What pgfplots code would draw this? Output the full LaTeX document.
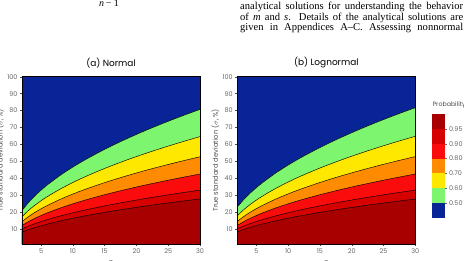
\documentclass[border=0pt]{standalone}
\usepackage{pgfplots}
\pgfplotsset{compat=1.18}
\usepackage{pgfplotstable}
\usepackage{fontspec}
\setmainfont{Poppins}
\newfontfamily\bodyserif{Liberation Serif}

% band colours, from high to low probability
\definecolor{pblue}{RGB}{8,36,150}
\definecolor{pgreen}{RGB}{125,245,110}
\definecolor{pyellow}{RGB}{255,232,0}
\definecolor{porange}{RGB}{255,140,0}
\definecolor{pred}{RGB}{250,12,12}
\definecolor{pmidred}{RGB}{215,0,0}
\definecolor{pdarkred}{RGB}{168,0,0}

% contour levels of the probability (sigma in %), normal parent
\pgfplotstableread{
n  p50   p60   p70   p80   p90   p95
2  20.90 17.30 14.40 12.10 10.10 8.20
3  25.57 20.92 17.30 14.34 11.72 9.61
4  29.51 24.00 19.77 16.28 13.13 10.84
5  32.98 26.73 21.97 18.01 14.41 11.95
6  36.12 29.21 23.97 19.59 15.59 12.96
8  41.70 33.61 27.54 22.41 17.71 14.78
10 46.61 37.50 30.69 24.92 19.60 16.40
12 51.06 41.03 33.55 27.19 21.32 17.87
15 57.08 45.81 37.43 30.29 23.67 19.87
18 62.52 50.14 40.94 33.09 25.81 21.69
21 67.53 54.12 44.18 35.68 27.78 23.37
24 72.19 57.83 47.19 38.09 29.62 24.93
27 76.56 61.31 50.02 40.36 31.36 26.40
30 80.70 64.61 52.70 42.51 33.00 27.80
}\normaltab

% contour levels of the probability (sigma in %), lognormal parent
\pgfplotstableread{
n  p50   p60   p70   p80   p90   p95
2  23.00 17.90 14.50 12.10 10.20 8.40
3  27.36 21.42 17.39 14.34 11.80 9.77
4  31.11 24.44 19.86 16.28 13.20 10.97
5  34.46 27.13 22.06 18.01 14.47 12.05
6  37.51 29.57 24.05 19.59 15.64 13.05
8  42.97 33.93 27.62 22.41 17.75 14.83
10 47.80 37.79 30.77 24.92 19.63 16.43
12 52.19 41.30 33.63 27.19 21.35 17.88
15 58.16 46.05 37.51 30.29 23.69 19.86
18 63.57 50.36 41.03 33.09 25.82 21.66
21 68.55 54.33 44.26 35.68 27.79 23.32
24 73.20 58.03 47.28 38.09 29.63 24.87
27 77.57 61.51 50.12 40.36 31.36 26.33
30 81.70 64.80 52.80 42.51 33.00 27.71
}\lognormaltab

\pgfplotsset{
  panel/.style={
    scale only axis, width=178bp, height=167.6bp,
    xmin=2, xmax=30, ymin=1, ymax=100,
    xtick={5,10,...,30}, ytick={10,20,...,100},
    tick align=outside, tick pos=left,
    major tick length=2bp,
    tick style={black!70, line width=0.4pt},
    /pgf/number format/assume math mode=true,
    tick label style={font=\fontsize{6.5}{7}\selectfont, text=black!60},
    xticklabel style={yshift=1bp},
    yticklabel style={xshift=1bp},
    axis background/.style={fill=pblue},
    axis line style={black, line width=0.6pt},
    axis on top,
    xlabel={\itshape n},
    ylabel={True standard deviation ($\sigma$, \%)},
    ylabel shift=-3.5bp,
    label style={font=\fontsize{6.8}{8}\selectfont, text=black!70},
    title style={font=\fontsize{9}{10}\selectfont, at={(0.5,1)}, anchor=south, yshift=-0.5bp},
  },
}

\newcommand\bands[1]{%
  \addplot[fill=pgreen, draw=none] table[x=n, y=p50]{#1} \closedcycle;
  \addplot[fill=pyellow, draw=none] table[x=n, y=p60]{#1} \closedcycle;
  \addplot[fill=porange, draw=none] table[x=n, y=p70]{#1} \closedcycle;
  \addplot[fill=pred, draw=none] table[x=n, y=p80]{#1} \closedcycle;
  \addplot[fill=pmidred, draw=none] table[x=n, y=p90]{#1} \closedcycle;
  \addplot[fill=pdarkred, draw=none] table[x=n, y=p95]{#1} \closedcycle;
  \addplot[black, line width=0.45pt, smooth] table[x=n, y=p50]{#1};
  \addplot[black, line width=0.45pt, smooth] table[x=n, y=p60]{#1};
  \addplot[black, line width=0.45pt, smooth] table[x=n, y=p70]{#1};
  \addplot[black, line width=0.45pt, smooth] table[x=n, y=p80]{#1};
  \addplot[black, line width=0.45pt, smooth] table[x=n, y=p90]{#1};
  \addplot[black, line width=0.45pt, smooth] table[x=n, y=p95]{#1};
}

\begin{document}
\begin{tikzpicture}
\useasboundingbox (0bp,0bp) rectangle (464bp,261bp);

% running text of the page above the figure
\node[anchor=base west, inner sep=0pt, font=\bodyserif\fontsize{10}{10}\selectfont\itshape] at (99bp,254bp) {n\,\upshape − 1};
\begin{scope}[every node/.style={anchor=base west, inner sep=0pt, font=\bodyserif\fontsize{10.6}{10.5}\selectfont}]
  \node at (240bp,251bp) {\makebox[223bp][s]{analytical solutions for understanding the behavior}};
  \node at (240bp,240.5bp) {\makebox[223bp][s]{of \textit{m} and \textit{s}. Details of the analytical solutions are}};
  \node at (240bp,230bp) {\makebox[223bp][s]{given in Appendices A–C. Assessing nonnormal}};
\end{scope}

% (a) normal parent distribution
\begin{axis}[panel, at={(22bp,16.7bp)}, anchor=south west, title={(a) Normal}]
  \bands{\normaltab}
\end{axis}

% (b) lognormal parent distribution
\begin{axis}[panel, at={(237.3bp,16.7bp)}, anchor=south west, title={(b) Lognormal}]
  \bands{\lognormaltab}
\end{axis}

% discrete colour key
\begin{axis}[scale only axis, width=13bp, height=104bp,
    at={(432bp,43bp)}, anchor=south west,
    xmin=0, xmax=1, ymin=0, ymax=7,
    hide x axis, axis y line*=right,
    y axis line style={draw=none},
    ytick={1,...,6}, yticklabels={0.50,0.60,0.70,0.80,0.90,0.95},
    tick align=outside, major tick length=1.5bp,
    tick style={black!60, line width=0.3pt},
    /pgf/number format/assume math mode=true,
    yticklabel style={font=\fontsize{6.5}{7}\selectfont, text=black!60, xshift=-1bp},
    title={Probability},
    title style={font=\fontsize{6.3}{7}\selectfont, text=black!70, at={(0,1)}, anchor=south west, xshift=-3bp, yshift=-4bp},
  ]
  \addplot[fill=pdarkred, draw=none] coordinates {(0,7) (1,7)} \closedcycle;
  \addplot[fill=pmidred, draw=none] coordinates {(0,6) (1,6)} \closedcycle;
  \addplot[fill=pred, draw=none] coordinates {(0,5) (1,5)} \closedcycle;
  \addplot[fill=porange, draw=none] coordinates {(0,4) (1,4)} \closedcycle;
  \addplot[fill=pyellow, draw=none] coordinates {(0,3) (1,3)} \closedcycle;
  \addplot[fill=pgreen, draw=none] coordinates {(0,2) (1,2)} \closedcycle;
  \addplot[fill=pblue, draw=none] coordinates {(0,1) (1,1)} \closedcycle;
\end{axis}
\end{tikzpicture}
\end{document}
